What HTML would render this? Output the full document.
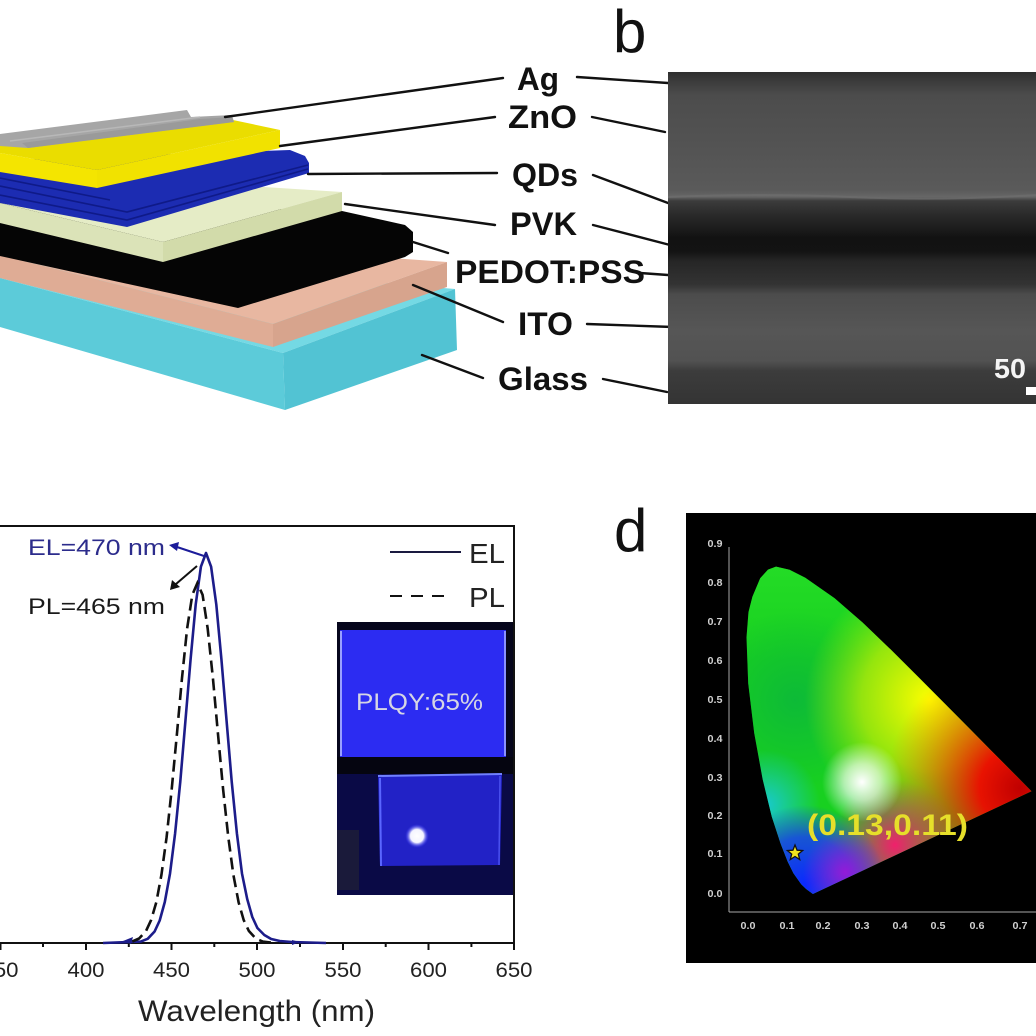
<!DOCTYPE html>
<html><head><meta charset="utf-8"><style>
html,body{margin:0;padding:0;background:#fff;}
svg{display:block;}
text{font-family:"Liberation Sans",Arial,sans-serif;}
</style></head><body>
<svg width="1036" height="1036" viewBox="0 0 1036 1036" xmlns="http://www.w3.org/2000/svg">
<defs>
<linearGradient id="sem" x1="0" y1="72" x2="0" y2="404" gradientUnits="userSpaceOnUse">
<stop offset="0" stop-color="#2e2e2e"/>
<stop offset="0.02" stop-color="#383838"/>
<stop offset="0.05" stop-color="#444"/>
<stop offset="0.07" stop-color="#4c4c4c"/>
<stop offset="0.24" stop-color="#545454"/>
<stop offset="0.355" stop-color="#5a5a5a"/>
<stop offset="0.376" stop-color="#666"/>
<stop offset="0.388" stop-color="#3c3c3c"/>
<stop offset="0.43" stop-color="#2a2a2a"/>
<stop offset="0.5" stop-color="#121212"/>
<stop offset="0.54" stop-color="#131313"/>
<stop offset="0.57" stop-color="#262626"/>
<stop offset="0.64" stop-color="#333"/>
<stop offset="0.67" stop-color="#4c4c4c"/>
<stop offset="0.78" stop-color="#565656"/>
<stop offset="0.87" stop-color="#525252"/>
<stop offset="0.9" stop-color="#3c3c3c"/>
<stop offset="1" stop-color="#343434"/>
</linearGradient>
<linearGradient id="gTop" x1="0" y1="560" x2="0" y2="660" gradientUnits="userSpaceOnUse">
<stop offset="0" stop-color="#28e028" stop-opacity="0.8"/>
<stop offset="1" stop-color="#28e028" stop-opacity="0"/>
</linearGradient>
<clipPath id="cie"><path d="M812.9,894 L806.1,889 L801.2,884.3 L793.4,873.2 L787.7,861.7 L780.6,843.6 L771.8,816.7 L762.7,779.5 L754.2,733 L748.2,683.3 L746.5,637.4 L748.5,612 L752.4,596.7 L760.2,578.3 L768,569.6 L776,566.6 L789.5,569.7 L805.3,577.7 L834.5,598.1 L862.6,622.5 L890.5,649.3 L918.2,676.9 L944.9,703.8 L969.3,728.4 L989.5,748.9 L1014.7,774.2 L1031.5,791.2 Z"/></clipPath>
<radialGradient id="gG" cx="795" cy="700" r="90" gradientUnits="userSpaceOnUse"><stop offset="0" stop-color="#0cb83a" stop-opacity="0.9"/><stop offset="1" stop-color="#0cb83a" stop-opacity="0"/></radialGradient>
<radialGradient id="gY" cx="930" cy="700" r="125" gradientUnits="userSpaceOnUse"><stop offset="0" stop-color="#ffff00" stop-opacity="1"/><stop offset="0.55" stop-color="#e8f400" stop-opacity="0.6"/><stop offset="1" stop-color="#c0f000" stop-opacity="0"/></radialGradient>
<radialGradient id="gR" cx="1020" cy="788" r="135" gradientUnits="userSpaceOnUse"><stop offset="0" stop-color="#c00000" stop-opacity="1"/><stop offset="0.3" stop-color="#f00800" stop-opacity="0.95"/><stop offset="1" stop-color="#ff7000" stop-opacity="0"/></radialGradient>
<radialGradient id="gC" cx="765" cy="805" r="55" gradientUnits="userSpaceOnUse"><stop offset="0" stop-color="#18c8f0" stop-opacity="0.85"/><stop offset="1" stop-color="#18c8f0" stop-opacity="0"/></radialGradient>
<radialGradient id="gB" cx="805" cy="885" r="80" gradientUnits="userSpaceOnUse"><stop offset="0" stop-color="#0a28ff" stop-opacity="1"/><stop offset="0.6" stop-color="#1840f0" stop-opacity="0.85"/><stop offset="1" stop-color="#1840f0" stop-opacity="0"/></radialGradient>
<radialGradient id="gM" cx="895" cy="845" r="65" gradientUnits="userSpaceOnUse"><stop offset="0" stop-color="#f0206c" stop-opacity="1"/><stop offset="1" stop-color="#f0206c" stop-opacity="0"/></radialGradient>
<radialGradient id="gP" cx="845" cy="872" r="42" gradientUnits="userSpaceOnUse"><stop offset="0" stop-color="#9a18d8" stop-opacity="0.95"/><stop offset="1" stop-color="#9a18d8" stop-opacity="0"/></radialGradient>
<radialGradient id="gW" cx="862" cy="782" r="40" gradientUnits="userSpaceOnUse"><stop offset="0" stop-color="#fff" stop-opacity="1"/><stop offset="0.45" stop-color="#fff" stop-opacity="0.65"/><stop offset="1" stop-color="#fff" stop-opacity="0"/></radialGradient>
<radialGradient id="dot" cx="417" cy="836" r="12" gradientUnits="userSpaceOnUse"><stop offset="0" stop-color="#fff"/><stop offset="0.55" stop-color="#f4f4ff"/><stop offset="1" stop-color="#3030ff" stop-opacity="0"/></radialGradient>
</defs>

<!-- ============ Panel a: layer stack ============ -->
<polygon points="0,278 283,353 455,289 0,250" fill="#74d9e4"/>
<polygon points="0,278 283,353 285,410 0,327" fill="#5ccbd9"/>
<polygon points="283,353 455,289 457,350 285,410" fill="#52c3d3"/>
<polygon points="0,255 273,324 447,262 0,230" fill="#e8b7a1"/>
<polygon points="0,255 273,324 273,347 0,278" fill="#dfac95"/>
<polygon points="273,324 447,262 447,287 273,347" fill="#d7a48d"/>
<polygon points="0,200 342,211 405,225 413,232 413,252 405,257 238,308 0,256" fill="#050505"/>
<polygon points="0,203 163,242 342,192 0,170" fill="#e5ecc6"/>
<polygon points="0,203 163,242 163,262 0,223" fill="#dbe3b8"/>
<polygon points="163,242 342,192 342,211 163,262" fill="#d2dbaa"/>
<polygon points="0,160 290,150 305,156 309,163 309,173 127,227 0,203" fill="#1c2cb2"/>
<path d="M0,186 L127,212 L308,165 M0,195 L127,220 L308,169 M0,178 L110,200" stroke="#0f1a88" stroke-width="1.6" fill="none"/>
<polygon points="0,140 233,120 280,130 97,170 0,153" fill="#eadd00"/>
<polygon points="0,153 97,170 97,188 0,172" fill="#f4e500"/>
<polygon points="97,170 280,130 280,148 97,188" fill="#f1e200"/>
<polygon points="0,134 187,110 191,117 232,115 234,122 28,148 0,146" fill="#a6a6a6"/>
<polygon points="22,143 200,119 232,117 234,122 28,148" fill="#9a9a9a"/>
<line x1="10" y1="141" x2="200" y2="117" stroke="#b8b8b8" stroke-width="1.5"/>

<g stroke="#111" stroke-width="2.4" fill="none" stroke-linecap="round">
<line x1="225" y1="117" x2="503" y2="78"/><line x1="577" y1="77" x2="668" y2="83"/>
<line x1="280" y1="146" x2="495" y2="117"/><line x1="592" y1="117" x2="665" y2="132"/>
<line x1="308" y1="174" x2="497" y2="173"/><line x1="593" y1="175" x2="668" y2="203"/>
<line x1="345" y1="204" x2="495" y2="225"/><line x1="593" y1="225" x2="670" y2="245"/>
<line x1="413" y1="242" x2="448" y2="253"/><line x1="640" y1="273" x2="668" y2="275"/>
<line x1="413" y1="285" x2="503" y2="322"/><line x1="587" y1="324" x2="673" y2="327"/>
<line x1="422" y1="355" x2="483" y2="378"/><line x1="603" y1="379" x2="667" y2="392"/>
</g>

<!-- ============ Panel b: SEM ============ -->
<rect x="668" y="72" width="368" height="332" fill="url(#sem)"/>
<path d="M668,197 Q760,193 850,197 T1036,195" stroke="#6e6e6e" stroke-width="2" fill="none" opacity="0.7"/>
<text x="994" y="378" font-size="28" font-weight="bold" fill="#f4f4f4" textLength="32" lengthAdjust="spacingAndGlyphs">50</text>
<rect x="1026" y="387" width="10" height="8" fill="#fff"/>

<g font-weight="bold" font-size="32" fill="#111">
<text x="517" y="90" textLength="42" lengthAdjust="spacingAndGlyphs">Ag</text>
<text x="508" y="128" textLength="69" lengthAdjust="spacingAndGlyphs">ZnO</text>
<text x="512" y="186" textLength="66" lengthAdjust="spacingAndGlyphs">QDs</text>
<text x="510" y="235" textLength="67" lengthAdjust="spacingAndGlyphs">PVK</text>
<text x="455" y="283" textLength="190" lengthAdjust="spacingAndGlyphs">PEDOT:PSS</text>
<text x="518" y="335" textLength="55" lengthAdjust="spacingAndGlyphs">ITO</text>
<text x="498" y="390" textLength="90" lengthAdjust="spacingAndGlyphs">Glass</text>
</g>
<text x="613" y="52" font-size="60" fill="#111">b</text>

<!-- ============ Panel c: spectra ============ -->
<g stroke="#111" stroke-width="2" fill="none">
<line x1="0" y1="526" x2="515" y2="526"/>
<line x1="514" y1="526" x2="514" y2="944"/>
<line x1="0" y1="943" x2="515" y2="943"/>
<path d="M0.5,943v7 M86,943v7 M171.5,943v7 M257,943v7 M343,943v7 M428.5,943v7 M514,943v7"/>
<path d="M43,943v4 M128.8,943v4 M214.3,943v4 M300,943v4 M385.7,943v4 M471.4,943v4"/>
</g>
<g font-size="21" fill="#222" text-anchor="middle">
<text x="0" y="977" textLength="37" lengthAdjust="spacingAndGlyphs">350</text>
<text x="86" y="977" textLength="37" lengthAdjust="spacingAndGlyphs">400</text>
<text x="171.5" y="977" textLength="37" lengthAdjust="spacingAndGlyphs">450</text>
<text x="257" y="977" textLength="37" lengthAdjust="spacingAndGlyphs">500</text>
<text x="343" y="977" textLength="37" lengthAdjust="spacingAndGlyphs">550</text>
<text x="428.5" y="977" textLength="37" lengthAdjust="spacingAndGlyphs">600</text>
<text x="514" y="977" textLength="37" lengthAdjust="spacingAndGlyphs">650</text>
</g>
<text x="138" y="1021" font-size="30" fill="#222" textLength="237" lengthAdjust="spacingAndGlyphs">Wavelength (nm)</text>

<rect x="337" y="622" width="176" height="273" fill="#06061c"/>
<rect x="340" y="630" width="166" height="127" fill="#2c2cf2"/>
<line x1="341" y1="631" x2="341" y2="756" stroke="#9aa0ff" stroke-width="2"/>
<line x1="505" y1="631" x2="505" y2="756" stroke="#8a90ff" stroke-width="2"/>
<rect x="337" y="757" width="176" height="17" fill="#050510"/>
<rect x="337" y="774" width="176" height="121" fill="#0a0a46"/>
<rect x="337" y="830" width="22" height="60" fill="#1a1a3a"/>
<polygon points="378,776 502,774 500,865 380,866" fill="#2222c6"/>
<line x1="378" y1="776" x2="502" y2="774" stroke="#7080ff" stroke-width="2"/>
<line x1="380" y1="778" x2="381" y2="866" stroke="#5a66ff" stroke-width="2"/>
<line x1="500" y1="776" x2="499" y2="865" stroke="#4a50ee" stroke-width="1.5"/>
<circle cx="417" cy="836" r="12" fill="url(#dot)"/>
<text x="356" y="710" font-size="24" fill="#d6d6e4" textLength="127" lengthAdjust="spacingAndGlyphs">PLQY:65%</text>

<path d="M103,943 L129,942 L140.8,941.6 L147.7,938.8 L154.6,931.5 L159.7,920.5 L164.8,902 L170,873.6 L175.1,833.4 L180.3,781.5 L185.4,721.1 L190.6,659.1 L195.7,604.5 L200.9,566.7 L206,553 L211.1,566.7 L216.3,604.5 L221.4,659.1 L226.6,721.1 L231.7,781.5 L236.9,833.4 L242,873.6 L247.2,899 L252.3,917 L257.4,928 L264.3,935 L271.2,939 L279.8,941 L292,942 L326,943" fill="none" stroke="#1c1c8a" stroke-width="2.6" stroke-linejoin="round"/>
<path d="M132.3,941.5 L139.1,938.5 L146,931 L151.1,920.1 L156.3,902.3 L161.4,875 L166.6,837.2 L171.7,789.3 L176.9,734.2 L182,678 L187.1,628.7 L192.3,594.9 L197.4,583 L202.6,594.9 L207.7,628.7 L212.9,678 L218,734.2 L223.1,789.3 L228.3,837.2 L233.4,875 L238.6,902.3 L243.7,920.1 L248.9,931 L255.7,938.5 L262.5,941.5 L274.5,943" fill="none" stroke="#111" stroke-width="2.6" stroke-dasharray="12,6"/>
<polygon points="123,941 133,937 131,944" fill="#1c1c8a"/>
<polygon points="292,940 300,942 292,945" fill="#1c1c8a"/>
<line x1="204" y1="556" x2="177" y2="547" stroke="#1c1c9a" stroke-width="2"/>
<polygon points="169,545 179,542 177,551" fill="#1c1c9a"/>
<line x1="197" y1="566" x2="176" y2="584" stroke="#111" stroke-width="2"/>
<polygon points="170,590 172,580 180,587" fill="#111"/>
<text x="28" y="555" font-size="22" fill="#2c2c8c" textLength="137" lengthAdjust="spacingAndGlyphs">EL=470 nm</text>
<text x="28" y="614" font-size="22" fill="#1a1a1a" textLength="137" lengthAdjust="spacingAndGlyphs">PL=465 nm</text>
<line x1="390" y1="552" x2="461" y2="552" stroke="#1a1a40" stroke-width="2"/>
<line x1="390" y1="596" x2="444" y2="596" stroke="#111" stroke-width="2" stroke-dasharray="12,9"/>
<text x="469" y="563" font-size="28" fill="#222" textLength="36" lengthAdjust="spacingAndGlyphs">EL</text>
<text x="469" y="607" font-size="28" fill="#222" textLength="36" lengthAdjust="spacingAndGlyphs">PL</text>

<!-- ============ Panel d: CIE ============ -->
<text x="614" y="551" font-size="60" fill="#111">d</text>
<rect x="686" y="513" width="350" height="450" fill="#000"/>
<g clip-path="url(#cie)">
<rect x="740" y="560" width="296" height="340" fill="#18d020"/>
<rect x="740" y="560" width="296" height="100" fill="url(#gTop)"/>
<rect x="740" y="560" width="296" height="340" fill="url(#gG)"/>
<rect x="740" y="560" width="296" height="340" fill="url(#gY)"/>
<rect x="740" y="560" width="296" height="340" fill="url(#gR)"/>
<rect x="740" y="560" width="296" height="340" fill="url(#gC)"/>
<rect x="740" y="560" width="296" height="340" fill="url(#gM)"/>
<rect x="740" y="560" width="296" height="340" fill="url(#gB)"/>
<rect x="740" y="560" width="296" height="340" fill="url(#gP)"/>
<rect x="740" y="560" width="296" height="340" fill="url(#gW)"/>
</g>
<g stroke="#a8a8a8" stroke-width="1" fill="none">
<line x1="729" y1="547" x2="729" y2="912"/>
<line x1="729" y1="912" x2="1036" y2="912"/>
</g>
<g font-size="10" font-weight="bold" fill="#d0d0d0" text-anchor="middle">
<text x="715" y="547" textLength="15" lengthAdjust="spacingAndGlyphs">0.9</text>
<text x="715" y="586" textLength="15" lengthAdjust="spacingAndGlyphs">0.8</text>
<text x="715" y="625" textLength="15" lengthAdjust="spacingAndGlyphs">0.7</text>
<text x="715" y="664" textLength="15" lengthAdjust="spacingAndGlyphs">0.6</text>
<text x="715" y="703" textLength="15" lengthAdjust="spacingAndGlyphs">0.5</text>
<text x="715" y="742" textLength="15" lengthAdjust="spacingAndGlyphs">0.4</text>
<text x="715" y="781" textLength="15" lengthAdjust="spacingAndGlyphs">0.3</text>
<text x="715" y="819" textLength="15" lengthAdjust="spacingAndGlyphs">0.2</text>
<text x="715" y="857" textLength="15" lengthAdjust="spacingAndGlyphs">0.1</text>
<text x="715" y="897" textLength="15" lengthAdjust="spacingAndGlyphs">0.0</text>
<text x="748" y="929" textLength="15" lengthAdjust="spacingAndGlyphs">0.0</text>
<text x="787" y="929" textLength="15" lengthAdjust="spacingAndGlyphs">0.1</text>
<text x="823" y="929" textLength="15" lengthAdjust="spacingAndGlyphs">0.2</text>
<text x="862" y="929" textLength="15" lengthAdjust="spacingAndGlyphs">0.3</text>
<text x="900" y="929" textLength="15" lengthAdjust="spacingAndGlyphs">0.4</text>
<text x="938" y="929" textLength="15" lengthAdjust="spacingAndGlyphs">0.5</text>
<text x="977" y="929" textLength="15" lengthAdjust="spacingAndGlyphs">0.6</text>
<text x="1020" y="929" textLength="15" lengthAdjust="spacingAndGlyphs">0.7</text>
</g>
<polygon points="795,845 797.1,850.2 802.6,850.5 798.3,854.1 799.7,859.5 795,856.5 790.3,859.5 791.7,854.1 787.4,850.5 792.9,850.2" fill="#f2e41e" stroke="#111" stroke-width="1.3"/>
<text x="807" y="835" font-size="30" font-weight="bold" fill="#e6df2a" textLength="161" lengthAdjust="spacingAndGlyphs">(0.13,0.11)</text>
</svg>
</body></html>
